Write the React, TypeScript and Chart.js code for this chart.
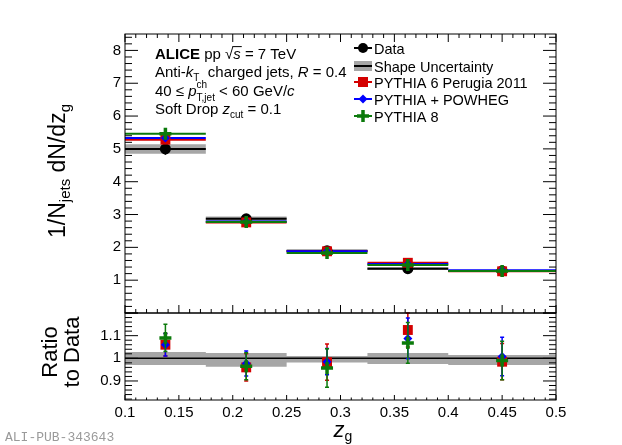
import { useEffect, useRef } from "react";
import { Chart, registerables, type ChartConfiguration, type Plugin } from "chart.js";

Chart.register(...registerables);

const FONT = "'Liberation Sans', Arial, Helvetica, sans-serif";
const RED = "#d40000";
const BLUE = "#0000ff";
const GREEN = "#0b7a0b";
const GRAY = "#a6a6a6";

// binning and axis ticks
const binEdges = [0.1, 0.175, 0.25, 0.325, 0.4, 0.5];
const binCenters = [0.1375, 0.2125, 0.2875, 0.3625, 0.45];
const xTicks = [0.1, 0.15, 0.2, 0.25, 0.3, 0.35, 0.4, 0.45, 0.5];
const yTicks = [1, 2, 3, 4, 5, 6, 7, 8];
const ratioTicks = [0.9, 1, 1.1];

// upper panel: 1/N dN/dzg
const dataVals = [5.0, 2.87, 1.9, 1.35, 1.28];
const dataErr = [0.18, 0.07, 0.05, 0.05, 0.04];
const shapeLo = [4.85, 2.76, 1.86, 1.32, 1.25];
const shapeHi = [5.14, 2.94, 1.93, 1.4, 1.31];
const perugiaVals = [5.28, 2.76, 1.88, 1.53, 1.27];
const perugiaErr = [0.06, 0.05, 0.04, 0.04, 0.04];
const powhegVals = [5.33, 2.79, 1.88, 1.49, 1.3];
const powhegErr = [0.05, 0.04, 0.03, 0.03, 0.03];
const pythia8Vals = [5.46, 2.77, 1.83, 1.46, 1.28];
const pythia8Err = [0.08, 0.05, 0.05, 0.04, 0.04];

// lower panel: ratio to data
const ratioBandLo = [0.97, 0.963, 0.982, 0.975, 0.971];
const ratioBandHi = [1.028, 1.024, 1.01, 1.024, 1.015];
const perugiaRatio = [1.06, 0.96, 0.983, 1.125, 0.985];
const perugiaRatioErr = [0.05, 0.06, 0.08, 0.075, 0.08];
const powhegRatio = [1.06, 0.977, 0.985, 1.088, 1.008];
const powhegRatioErr = [0.05, 0.055, 0.058, 0.09, 0.085];
const pythia8Ratio = [1.09, 0.965, 0.957, 1.068, 0.99];
const pythia8RatioErr = [0.06, 0.06, 0.085, 0.09, 0.085];

const legendItems = [
  "Data",
  "Shape Uncertainty",
  "PYTHIA 6 Perugia 2011",
  "PYTHIA + POWHEG",
  "PYTHIA 8"
];

function binSegments(vals: number[]) {
  const pts: { x: number; y: number | null }[] = [];
  vals.forEach((v, i) => {
    pts.push({ x: binEdges[i], y: v }, { x: binEdges[i + 1], y: v }, { x: binEdges[i + 1], y: null });
  });
  return pts;
}

function stepPoints(vals: number[]) {
  return [
    ...vals.map((v, i) => ({ x: binEdges[i], y: v })),
    { x: binEdges[binEdges.length - 1], y: vals[vals.length - 1] }
  ];
}

function centerPoints(vals: number[]) {
  return binCenters.map((x, i) => ({ x, y: vals[i] }));
}

type Run = { t: string; size?: number; it?: boolean; b?: boolean; dy?: number; hold?: boolean; over?: boolean };

function fontOf(r: Run, base: number) {
  return `${r.it ? "italic " : ""}${r.b ? "bold " : ""}${r.size ?? base}px ${FONT}`;
}

function runsWidth(ctx: CanvasRenderingContext2D, runs: Run[], base: number) {
  let w = 0;
  let held = 0;
  for (const r of runs) {
    ctx.font = fontOf(r, base);
    const rw = ctx.measureText(r.t).width;
    if (r.hold) {
      held = Math.max(held, rw);
      continue;
    }
    w += Math.max(rw, held);
    held = 0;
  }
  return w + held;
}

function drawRuns(ctx: CanvasRenderingContext2D, runs: Run[], x: number, y: number, base: number) {
  let cx = x;
  let held = 0;
  for (const r of runs) {
    ctx.font = fontOf(r, base);
    const rw = ctx.measureText(r.t).width;
    ctx.fillText(r.t, cx, y + (r.dy ?? 0));
    if (r.over) ctx.fillRect(cx - 1, y - (r.size ?? base) * 0.86, rw + 2, 1);
    if (r.hold) {
      held = Math.max(held, rw);
      continue;
    }
    cx += Math.max(rw, held);
    held = 0;
  }
}

const errorBars: Plugin<"line"> = {
  id: "errorBars",
  beforeDatasetDraw(chart, args) {
    const ds = chart.data.datasets[args.index] as any;
    if (!ds.errs) return;
    const meta = args.meta;
    const yScale = chart.scales[meta.yAxisID as string];
    const ctx = chart.ctx;
    ctx.save();
    ctx.strokeStyle = ds.errColor;
    ctx.lineWidth = ds.errWidth ?? 1.5;
    ctx.beginPath();
    meta.data.forEach((pt: any, i: number) => {
      const v = ds.data[i].y;
      const e = ds.errs[i];
      const top = yScale.getPixelForValue(v + e);
      const bot = yScale.getPixelForValue(v - e);
      ctx.moveTo(pt.x, top);
      ctx.lineTo(pt.x, bot);
      if (ds.capW) {
        ctx.moveTo(pt.x - ds.capW / 2, top);
        ctx.lineTo(pt.x + ds.capW / 2, top);
        ctx.moveTo(pt.x - ds.capW / 2, bot);
        ctx.lineTo(pt.x + ds.capW / 2, bot);
      }
    });
    ctx.stroke();
    ctx.restore();
  }
};

const decorations: Plugin<"line"> = {
  id: "decorations",
  afterDraw(chart) {
    const { ctx, chartArea } = chart;
    const xs = chart.scales.x;
    const ys = chart.scales.y;
    const yr = chart.scales.y2;
    const L = chartArea.left;
    const R = chartArea.right;
    ctx.save();
    ctx.strokeStyle = "#000";
    ctx.lineWidth = 1;
    ctx.strokeRect(L, ys.top, R - L, ys.bottom - ys.top);
    ctx.strokeRect(L, yr.top, R - L, yr.bottom - yr.top);

    ctx.beginPath();
    const seg = (x1: number, y1: number, x2: number, y2: number) => {
      ctx.moveTo(x1, y1);
      ctx.lineTo(x2, y2);
    };
    for (let k = 0; k <= 42; k++) {
      const py = ys.getPixelForValue(k * 0.2);
      const len = k % 5 === 0 ? 13 : 7;
      seg(L, py, L + len, py);
      seg(R, py, R - len, py);
    }
    for (let k = 41; k <= 60; k++) {
      const py = yr.getPixelForValue(k * 0.02);
      const len = k % 5 === 0 ? 13 : 7;
      seg(L, py, L + len, py);
      seg(R, py, R - len, py);
    }
    for (let k = 10; k <= 50; k++) {
      const px = xs.getPixelForValue(k / 100);
      const major = k % 5 === 0;
      seg(px, ys.top, px, ys.top + (major ? 8 : 4));
      seg(px, ys.bottom, px, ys.bottom - (major ? 8 : 4));
      seg(px, yr.bottom, px, yr.bottom - (major ? 5 : 2.5));
    }
    ctx.stroke();

    ctx.fillStyle = "#000";
    ctx.textBaseline = "alphabetic";
    ctx.textAlign = "left";

    // annotation block
    const base = 15;
    const tx = 155;
    drawRuns(ctx, [{ t: "ALICE", b: true }, { t: " pp " }, { t: "\u221A" }, { t: "s", it: true, over: true }, { t: " = 7 TeV" }], tx, 59, base);
    drawRuns(ctx, [{ t: "Anti-" }, { t: "k", it: true }, { t: "T", size: 10, dy: 4 }, { t: "  charged jets, " }, { t: "R", it: true }, { t: " = 0.4" }], tx, 77, base);
    drawRuns(ctx, [{ t: "40 \u2264 " }, { t: "p", it: true }, { t: "ch", size: 10, dy: -8, hold: true }, { t: "T,jet", size: 10, dy: 5 }, { t: " < 60 GeV/" }, { t: "c", it: true }], tx, 96, base);
    drawRuns(ctx, [{ t: "Soft Drop " }, { t: "z", it: true }, { t: "cut", size: 10, dy: 4 }, { t: " = 0.1" }], tx, 114, base);

    // legend
    const rows = [48, 66, 82, 99, 116];
    const mx = 363;
    rows.forEach((ry, i) => {
      ctx.fillStyle = "#000";
      ctx.font = `14.5px ${FONT}`;
      ctx.fillText(legendItems[i], 374, ry + 5.5);
      ctx.lineWidth = 2;
      if (i === 1) {
        ctx.fillStyle = GRAY;
        ctx.fillRect(mx - 9, ry - 5, 18, 10);
      }
      const col = ["#000", "#000", RED, BLUE, GREEN][i];
      ctx.strokeStyle = col;
      ctx.beginPath();
      ctx.moveTo(mx - 9, ry);
      ctx.lineTo(mx + 9, ry);
      ctx.stroke();
      ctx.fillStyle = col;
      ctx.beginPath();
      if (i === 0) {
        ctx.arc(mx, ry, 5, 0, Math.PI * 2);
        ctx.fill();
      } else if (i === 2) {
        ctx.fillRect(mx - 5, ry - 5, 10, 10);
      } else if (i === 3) {
        ctx.moveTo(mx, ry - 4.5);
        ctx.lineTo(mx + 4.5, ry);
        ctx.lineTo(mx, ry + 4.5);
        ctx.lineTo(mx - 4.5, ry);
        ctx.closePath();
        ctx.fill();
      } else if (i === 4) {
        ctx.lineWidth = 3.5;
        ctx.moveTo(mx - 6, ry);
        ctx.lineTo(mx + 6, ry);
        ctx.moveTo(mx, ry - 6);
        ctx.lineTo(mx, ry + 6);
        ctx.stroke();
      }
    });

    // axis titles
    ctx.fillStyle = "#000";
    const yTitle: Run[] = [{ t: "1/N" }, { t: "jets", size: 15, dy: 5 }, { t: " dN/dz" }, { t: "g", size: 15, dy: 5 }];
    ctx.save();
    ctx.translate(65, 171);
    ctx.rotate(-Math.PI / 2);
    drawRuns(ctx, yTitle, -runsWidth(ctx, yTitle, 23) / 2, 0, 23);
    ctx.restore();

    ctx.save();
    ctx.translate(56.5, 352);
    ctx.rotate(-Math.PI / 2);
    ctx.textAlign = "center";
    ctx.font = `22px ${FONT}`;
    ctx.fillText("Ratio", 0, 0);
    ctx.fillText("to Data", 0, 22.5);
    ctx.restore();

    const xTitle: Run[] = [{ t: "z", it: true }, { t: "g", size: 14, dy: 4 }];
    drawRuns(ctx, xTitle, 343 - runsWidth(ctx, xTitle, 22) / 2, 437, 22);

    ctx.fillStyle = "#9a9a9a";
    ctx.font = `13px 'Liberation Mono', 'DejaVu Sans Mono', monospace`;
    ctx.fillText("ALI-PUB-343643", 5, 441);
    ctx.restore();
  }
};

function markerSet(
  vals: number[],
  errs: number[],
  color: string,
  style: string,
  radius: number,
  axis: string,
  order: number,
  capW = 0
) {
  const isCross = style === "cross";
  return {
    data: centerPoints(vals),
    yAxisID: axis,
    showLine: false,
    order,
    pointStyle: style,
    pointRadius: radius,
    pointBackgroundColor: color,
    pointBorderColor: color,
    pointBorderWidth: isCross ? 3.5 : 0,
    errs,
    errColor: color,
    capW
  };
}

function lineSet(vals: number[], color: string, order: number) {
  return {
    data: binSegments(vals),
    yAxisID: "y",
    borderColor: color,
    borderWidth: 2,
    pointRadius: 0,
    spanGaps: false,
    order
  };
}

function bandSets(lo: number[], hi: number[], axis: string) {
  return [
    { data: stepPoints(hi), yAxisID: axis, stepped: true, borderWidth: 0, pointRadius: 0, fill: false, order: 20 },
    {
      data: stepPoints(lo),
      yAxisID: axis,
      stepped: true,
      borderWidth: 0,
      pointRadius: 0,
      fill: "-1",
      backgroundColor: GRAY,
      order: 20
    }
  ];
}

function tickAxis(values: number[]) {
  return (scale: any) => {
    scale.ticks = values.map((value) => ({ value }));
  };
}

function buildConfig(): ChartConfiguration<"line"> {
  const tickFont = { family: FONT, size: 15 };
  return {
    type: "line",
    data: {
      datasets: [
        ...bandSets(shapeLo, shapeHi, "y"),
        lineSet(dataVals, "#000", 15),
        lineSet(perugiaVals, RED, 14),
        lineSet(powhegVals, BLUE, 13),
        lineSet(pythia8Vals, GREEN, 12),
        markerSet(dataVals, dataErr, "#000", "circle", 5.5, "y", 5),
        markerSet(perugiaVals, perugiaErr, RED, "rect", 7, "y", 4),
        markerSet(powhegVals, powhegErr, BLUE, "rectRot", 4.5, "y", 3),
        markerSet(pythia8Vals, pythia8Err, GREEN, "cross", 6, "y", 2),
        ...bandSets(ratioBandLo, ratioBandHi, "y2"),
        {
          data: [
            { x: binEdges[0], y: 1 },
            { x: binEdges[binEdges.length - 1], y: 1 }
          ],
          yAxisID: "y2",
          borderColor: "#000",
          borderWidth: 1.5,
          pointRadius: 0,
          order: 15
        },
        markerSet(perugiaRatio, perugiaRatioErr, RED, "rect", 7, "y2", 4, 4),
        markerSet(powhegRatio, powhegRatioErr, BLUE, "rectRot", 4.5, "y2", 3, 4),
        markerSet(pythia8Ratio, pythia8RatioErr, GREEN, "cross", 6, "y2", 2, 4)
      ] as any
    },
    options: {
      responsive: true,
      maintainAspectRatio: false,
      animation: false,
      events: [],
      layout: { padding: { left: 0, top: 34, right: 66, bottom: 0 } },
      plugins: { legend: { display: false }, tooltip: { enabled: false } },
      scales: {
        x: {
          type: "linear",
          min: 0.1,
          max: 0.5,
          position: "bottom",
          grid: { display: false, drawTicks: false },
          border: { display: false },
          afterBuildTicks: tickAxis(xTicks),
          afterFit: (s: any) => {
            s.height = 45;
          },
          ticks: {
            color: "#000",
            font: tickFont,
            padding: 4,
            maxRotation: 0,
            autoSkip: false,
            callback: (v: any) => String(v)
          }
        },
        y: {
          type: "linear",
          position: "left",
          stack: "panels",
          stackWeight: 279,
          weight: 2,
          min: 0,
          max: 8.5,
          grid: { display: false, drawTicks: false },
          border: { display: false },
          afterBuildTicks: tickAxis(yTicks),
          afterFit: (s: any) => {
            s.width = 125;
          },
          ticks: { color: "#000", font: tickFont, padding: 4, callback: (v: any) => String(v) }
        },
        y2: {
          type: "linear",
          position: "left",
          stack: "panels",
          stackWeight: 87,
          weight: 1,
          min: 0.816,
          max: 1.2,
          grid: { display: false, drawTicks: false },
          border: { display: false },
          afterBuildTicks: tickAxis(ratioTicks),
          afterFit: (s: any) => {
            s.width = 125;
          },
          ticks: { color: "#000", font: tickFont, padding: 4, callback: (v: any) => String(v) }
        }
      }
    } as any,
    plugins: [errorBars, decorations]
  };
}

export default function App() {
  const canvasRef = useRef<HTMLCanvasElement | null>(null);

  useEffect(() => {
    if (!canvasRef.current) {
      return;
    }
    const chart = new Chart(canvasRef.current, buildConfig());
    return () => chart.destroy();
  }, []);

  return (
    <div style={{ position: "fixed", left: 0, top: 0, width: 622, height: 445, background: "#fff" }}>
      <canvas ref={canvasRef} />
    </div>
  );
}
